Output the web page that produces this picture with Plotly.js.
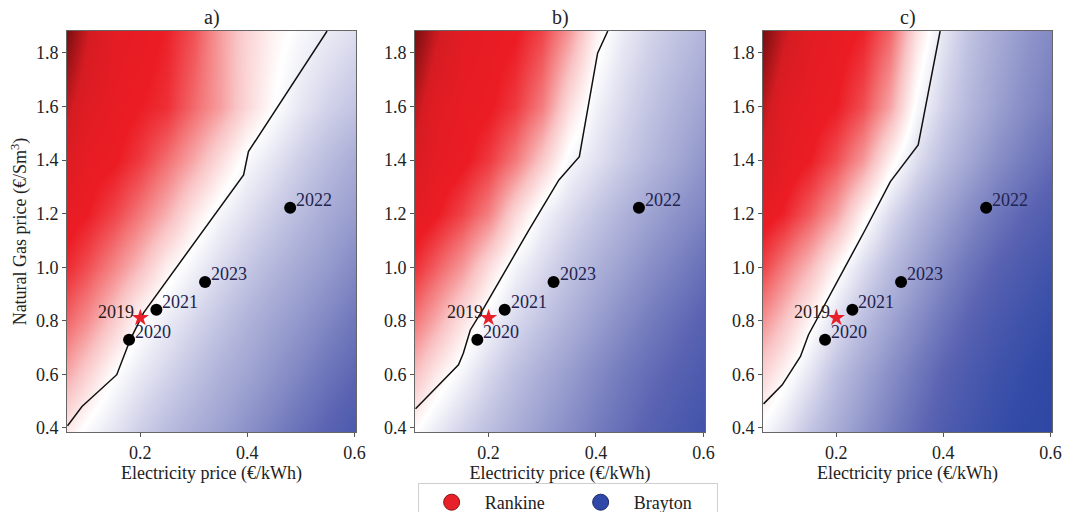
<!DOCTYPE html>
<html>
<head>
<meta charset="utf-8">
<script src="https://cdn.plot.ly/plotly-3.0.1.min.js"></script>
<style>html,body{margin:0;padding:0;background:#fff;}</style>
</head>
<body>
<div id="chart" style="width:1065px;height:512px;"></div>
<script>
// ---- Data ----
const panelTitles = ['a)', 'b)', 'c)'];
const elecGrid = [0.063, 0.1, 0.15, 0.2, 0.25, 0.3, 0.35, 0.4, 0.45, 0.5, 0.55, 0.603];
const gasGrid  = [0.385, 0.6, 0.8, 1.0, 1.2, 1.4, 1.6, 1.882];

// preference field (positive = Rankine / red, negative = Brayton / blue), rows follow gasGrid
const zA = [
  [0.07, -0.03, -0.12, -0.22, -0.31, -0.39, -0.46, -0.54, -0.62, -0.70, -0.77, -0.84],
  [0.26,  0.15,  0.00, -0.10, -0.19, -0.28, -0.37, -0.44, -0.52, -0.60, -0.68, -0.75],
  [0.41,  0.32,  0.17,  0.01, -0.09, -0.18, -0.27, -0.36, -0.44, -0.51, -0.59, -0.67],
  [0.53,  0.46,  0.34,  0.21,  0.05, -0.06, -0.16, -0.25, -0.34, -0.42, -0.49, -0.58],
  [0.60,  0.56,  0.48,  0.37,  0.24,  0.08, -0.05, -0.14, -0.23, -0.32, -0.41, -0.48],
  [0.68,  0.60,  0.57,  0.50,  0.39,  0.26,  0.11, -0.03, -0.12, -0.22, -0.31, -0.40],
  [0.80,  0.66,  0.60,  0.56,  0.52,  0.40,  0.28,  0.13,  0.00, -0.11, -0.20, -0.27],
  [0.97,  0.78,  0.63,  0.60,  0.55,  0.45,  0.28,  0.14,  0.04, -0.03, -0.09, -0.15]
];
const zB = [
  [0.00, -0.09, -0.20, -0.30, -0.39, -0.48, -0.56, -0.64, -0.71, -0.78, -0.84, -0.90],
  [0.20,  0.08, -0.05, -0.18, -0.29, -0.39, -0.48, -0.57, -0.65, -0.72, -0.78, -0.84],
  [0.37,  0.26,  0.10, -0.05, -0.17, -0.27, -0.37, -0.47, -0.56, -0.64, -0.71, -0.78],
  [0.52,  0.43,  0.30,  0.11, -0.05, -0.16, -0.27, -0.37, -0.46, -0.55, -0.62, -0.70],
  [0.62,  0.57,  0.48,  0.35,  0.13, -0.05, -0.16, -0.26, -0.36, -0.45, -0.53, -0.60],
  [0.72,  0.62,  0.58,  0.50,  0.37,  0.18, -0.03, -0.13, -0.23, -0.33, -0.42, -0.52],
  [0.82,  0.65,  0.60,  0.57,  0.50,  0.36,  0.11, -0.06, -0.17, -0.27, -0.36, -0.45],
  [0.97,  0.80,  0.64,  0.60,  0.57,  0.48,  0.30,  0.05, -0.09, -0.19, -0.27, -0.35]
];
const zC = [
  [-0.03, -0.12, -0.27, -0.40, -0.52, -0.63, -0.73, -0.82, -0.89, -0.95, -0.99, -1.00],
  [0.14,  0.04, -0.12, -0.29, -0.43, -0.55, -0.66, -0.76, -0.84, -0.91, -0.96, -1.00],
  [0.31,  0.20,  0.03, -0.14, -0.30, -0.44, -0.56, -0.67, -0.77, -0.85, -0.91, -0.96],
  [0.48,  0.37,  0.22,  0.03, -0.15, -0.31, -0.45, -0.57, -0.68, -0.77, -0.84, -0.90],
  [0.60,  0.55,  0.43,  0.28,  0.04, -0.16, -0.32, -0.45, -0.57, -0.67, -0.75, -0.82],
  [0.72,  0.62,  0.56,  0.46,  0.30,  0.05, -0.15, -0.30, -0.43, -0.55, -0.64, -0.72],
  [0.82,  0.65,  0.60,  0.56,  0.46,  0.27, -0.03, -0.20, -0.34, -0.46, -0.56, -0.64],
  [0.97,  0.80,  0.64,  0.60,  0.55,  0.41,  0.10, -0.11, -0.28, -0.40, -0.50, -0.58]
];

// boundary line (break-even) for each panel
const boundA_x = [0.064, 0.091, 0.156, 0.181, 0.206, 0.393, 0.402, 0.549];
const boundA_y = [0.408, 0.480, 0.599, 0.729, 0.830, 1.345, 1.432, 1.882];
const boundB_x = [0.064, 0.144, 0.153, 0.166, 0.191, 0.275, 0.331, 0.369, 0.403, 0.422];
const boundB_y = [0.472, 0.636, 0.679, 0.766, 0.847, 1.139, 1.326, 1.413, 1.799, 1.882];
const boundC_x = [0.064, 0.099, 0.133, 0.148, 0.254, 0.301, 0.353, 0.394];
const boundC_y = [0.490, 0.561, 0.667, 0.748, 1.140, 1.320, 1.457, 1.882];

// yearly market prices
const years     = ['2020', '2021', '2022', '2023'];
const yearElec  = [0.179, 0.230, 0.480, 0.321];
const yearGas   = [0.729, 0.841, 1.222, 0.945];
const refYear   = ['2019'];
const refElec   = [0.200];
const refGas    = [0.811];

const legendNames = ['Rankine', 'Brayton'];

// ---- Styling ----
const colorscale = [
  [0.0, '#2e48a5'],
  [0.12, '#5a63b2'],
  [0.25, '#9399cc'],
  [0.38, '#c8c9e5'],
  [0.5, '#ffffff'],
  [0.6, '#f9c2c3'],
  [0.69, '#f37476'],
  [0.78, '#ec1c24'],
  [0.88, '#d41c22'],
  [1.0, '#6e0c0e']
];
const FONT = 'Liberation Serif, Times New Roman, serif';
const TXT = '#222222';
const xDomains = [[67/1065, 356/1065], [415/1065, 705/1065], [763/1065, 1052/1065]];
const yDomain = [1 - 432/512, 1 - 31/512];
const zs = [zA, zB, zC];
const bx = [boundA_x, boundB_x, boundC_x];
const by = [boundA_y, boundB_y, boundC_y];

const traces = [];
const annotations = [];
const layout = {
  width: 1065, height: 512,
  margin: {l: 0, r: 0, t: 0, b: 0, autoexpand: false},
  paper_bgcolor: '#ffffff', plot_bgcolor: '#ffffff',
  font: {family: FONT, size: 18, color: TXT},
  showlegend: true,
  legend: {
    orientation: 'h', x: 0.533, xanchor: 'center', y: 1 - 483/512, yanchor: 'top',
    bordercolor: '#cfcfcf', borderwidth: 1, bgcolor: '#ffffff',
    font: {family: FONT, size: 18, color: TXT},
    entrywidth: 78, itemwidth: 56
  }
};

for (let p = 0; p < 3; p++) {
  const sfx = p === 0 ? '' : String(p + 1);
  const xa = 'x' + sfx, ya = 'y' + sfx;
  traces.push({
    type: 'heatmap', x: elecGrid, y: gasGrid, z: zs[p], xaxis: xa, yaxis: ya,
    zsmooth: 'best', colorscale: colorscale, zmin: -1, zmax: 1,
    showscale: false, showlegend: false, hoverinfo: 'skip'
  });
  traces.push({
    type: 'scatter', mode: 'lines', x: bx[p], y: by[p], xaxis: xa, yaxis: ya,
    line: {color: '#111', width: 1.5}, showlegend: false, hoverinfo: 'skip'
  });
  traces.push({
    type: 'scatter', mode: 'markers', x: yearElec, y: yearGas, xaxis: xa, yaxis: ya,
    marker: {color: '#000', size: 12}, showlegend: false
  });
  traces.push({
    type: 'scatter', mode: 'markers', x: refElec, y: refGas, xaxis: xa, yaxis: ya,
    marker: {color: '#e8202a', size: 13, symbol: 'star'}, showlegend: false
  });

  layout['xaxis' + sfx] = {
    domain: xDomains[p], anchor: ya, range: [0.063, 0.603],
    tickvals: [0.2, 0.4, 0.6], tickformat: '.1f',
    ticks: 'outside', ticklen: 4, tickcolor: '#555', tickfont: {size: 18, color: TXT},
    showline: true, linecolor: '#666', linewidth: 1, mirror: true,
    showgrid: false, zeroline: false, automargin: false,
    title: {text: 'Electricity price (€/kWh)', font: {size: 18, color: TXT}, standoff: 2}
  };
  const yax = {
    domain: yDomain, anchor: xa, range: [0.385, 1.882],
    tick0: 0.4, dtick: 0.2, tickformat: '.1f',
    ticks: 'outside', ticklen: 4, tickcolor: '#555', tickfont: {size: 18, color: TXT},
    showline: true, linecolor: '#666', linewidth: 1, mirror: true,
    showgrid: false, zeroline: false, automargin: false
  };
  if (p === 0) {
    yax.title = {text: 'Natural Gas price (€/Sm<sup>3</sup>)', font: {size: 18, color: TXT}, standoff: 4};
  }
  layout['yaxis' + sfx] = yax;

  annotations.push({
    xref: xa + ' domain', yref: 'paper', x: 0.5, y: 1 - 17/512,
    text: panelTitles[p], showarrow: false, xanchor: 'center', yanchor: 'middle',
    font: {size: 20, color: TXT}
  });
  for (let i = 0; i < years.length; i++) {
    annotations.push({
      xref: xa, yref: ya, x: yearElec[i], y: yearGas[i], text: years[i],
      showarrow: false, xanchor: 'left', yanchor: 'middle', xshift: 4, yshift: 8,
      font: {size: 18, color: '#23234f'}
    });
  }
  annotations.push({
    xref: xa, yref: ya, x: refElec[0], y: refGas[0], text: refYear[0],
    showarrow: false, xanchor: 'right', yanchor: 'middle', xshift: -4, yshift: 6,
    font: {size: 18, color: '#2a1c1c'}
  });
}

// legend entries
traces.push({
  type: 'scatter', mode: 'markers', x: [null], y: [null], name: legendNames[0],
  marker: {color: '#e8202a', size: 16, line: {color: '#8a1414', width: 1}}, xaxis: 'x', yaxis: 'y'
});
traces.push({
  type: 'scatter', mode: 'markers', x: [null], y: [null], name: legendNames[1],
  marker: {color: '#3048a8', size: 16, line: {color: '#1c2a6a', width: 1}}, xaxis: 'x', yaxis: 'y'
});

layout.annotations = annotations;
Plotly.newPlot('chart', traces, layout, {staticPlot: true, displayModeBar: false});
</script>
</body>
</html>
